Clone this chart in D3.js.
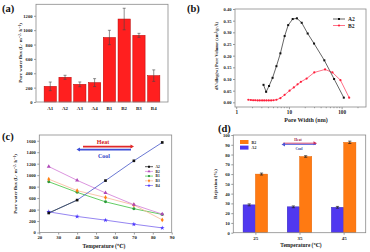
<!DOCTYPE html>
<html><head><meta charset="utf-8">
<script src="https://cdn.jsdelivr.net/npm/d3@7"></script>
<style>
body{margin:0;background:#fff}
svg{display:block;font-family:"Liberation Serif","DejaVu Serif",serif;font-weight:bold}
</style></head><body>
<svg id="fig" width="370" height="252"></svg>
<script>
// (a) pure water flux of the membranes
const fluxCats = ["A1","A2","A3","A4","B1","B2","B3","B4"];
const fluxVals = [218,344,246,270,898,1155,928,367];
const fluxErrs = [60,28,33,55,100,150,28,80];
const fluxTicks = [0,200,400,600,800,1000,1200];

// (b) pore size distribution
const poreA2W = [3.3,3.7,4.2,4.9,5.8,6.9,8.3,9.7,11.8,14.2,17.5,22.7,30,47,72,110];
const poreA2V = [0.075,0.045,0.07,0.105,0.155,0.21,0.284,0.331,0.357,0.36,0.341,0.295,0.252,0.18,0.10,0.02];
const poreB2W = [1.7,1.9,2.1,2.3,2.55,2.8,3.1,3.4,3.75,4.15,4.6,5.1,5.8,6.9,8.3,10.3,12.4,14.6,16.9,21.7,30.3,48.5,67,95,139];
const poreB2V = [0.011,0.01,0.009,0.009,0.008,0.008,0.008,0.008,0.008,0.008,0.008,0.009,0.011,0.018,0.032,0.05,0.064,0.077,0.088,0.102,0.128,0.141,0.128,0.095,0.02];
const poreTicksY = [0,0.05,0.10,0.15,0.20,0.25,0.30,0.35,0.40];

// (c) flux vs temperature
const temps = [25,40,55,70,85];
const tempSeries = ["A2","B2","B1","B3","B4"];
const fluxA2 = [340,565,905,1250,1570];
const fluxB2 = [1150,910,690,485,320];
const fluxB1 = [885,700,535,415,315];
const fluxB3 = [930,730,610,480,220];
const fluxB4 = [360,280,215,145,80];

// (d) rejection
const rejTemps = ["25","35","45"];
const rejA2 = [28.5,26.5,26];
const rejB2 = [60,78,92.5];
const rejA2Err = [1,0.9,0.9];
const rejB2Err = [1,0.8,1.2];

const svg = d3.select("#fig");

function frame(x0, y0, x1, y1) {
    svg.append("rect")
        .attr("x", x0).attr("y", y0)
        .attr("width", x1 - x0).attr("height", y1 - y0)
        .attr("fill", "none").attr("stroke", "#8a8a8a").attr("stroke-width", 0.8);
}

function styleAxis(g, fs) {
    g.select(".domain").remove();
    g.selectAll("line").attr("stroke", "#555").attr("stroke-width", 0.6);
    g.selectAll("text").attr("font-size", fs).attr("fill", "#222")
        .attr("font-family", "Liberation Serif, serif").attr("font-weight", "bold");
}

function label(x, y, txt, fs, opts = {}) {
    const t = svg.append("text")
        .attr("x", x).attr("y", y)
        .attr("font-size", fs)
        .attr("text-anchor", opts.anchor || "middle")
        .attr("fill", opts.fill || "#222")
        .text(txt);
    if (opts.rotate) t.attr("transform", `rotate(-90,${x},${y})`);
    return t;
}

function arrow(x0, x1, y, color, w) {
    // shaft plus a small triangular head at x1
    const dir = x1 > x0 ? 1 : -1;
    svg.append("line").attr("x1", x0).attr("x2", x1 - dir * 2).attr("y1", y).attr("y2", y)
        .attr("stroke", color).attr("stroke-width", w);
    svg.append("path")
        .attr("d", `M${x1},${y}L${x1 - dir * 3.5},${y - 2}L${x1 - dir * 3.5},${y + 2}Z`)
        .attr("fill", color);
}

// ---------- (a) ----------
const xa = d3.scaleBand().domain(fluxCats).range([36, 168]).paddingInner(0.17).paddingOuter(0.55);
const ya = d3.scaleLinear().domain([0, 1360]).range([102, 4.3]);

svg.append("g").selectAll("rect").data(fluxCats).enter().append("rect")
    .attr("x", d => xa(d))
    .attr("y", (d, i) => ya(fluxVals[i]))
    .attr("width", xa.bandwidth())
    .attr("height", (d, i) => ya(0) - ya(fluxVals[i]))
    .attr("fill", "#ff1f1f").attr("stroke", "#b80000").attr("stroke-width", 0.5);

const errA = svg.append("g").attr("stroke", "#444").attr("stroke-width", 0.6);
fluxCats.forEach((c, i) => {
    const cx = xa(c) + xa.bandwidth() / 2;
    const y1 = ya(fluxVals[i] + fluxErrs[i]), y2 = ya(fluxVals[i] - fluxErrs[i]);
    errA.append("line").attr("x1", cx).attr("x2", cx).attr("y1", y1).attr("y2", y2);
    errA.append("line").attr("x1", cx - 1.5).attr("x2", cx + 1.5).attr("y1", y1).attr("y2", y1);
    errA.append("line").attr("x1", cx - 1.5).attr("x2", cx + 1.5).attr("y1", y2).attr("y2", y2);
});

svg.append("g").attr("transform", "translate(36,0)")
    .call(d3.axisLeft(ya).tickValues(fluxTicks).tickSize(2).tickPadding(1.5).tickFormat(d3.format("d")))
    .call(g => styleAxis(g, 4.6));
svg.append("g").attr("transform", "translate(0,102)")
    .call(d3.axisBottom(xa).tickSize(0).tickPadding(4))
    .call(g => styleAxis(g, 5));
frame(36, 4.3, 168, 102);
label(22, 53, "Pure water flux (L· m⁻²· h⁻¹)", 4.8, {rotate: true});
label(2, 11.5, "(a)", 10.5, {anchor: "start", fill: "#111"});

// ---------- (b) ----------
const xb = d3.scaleLog().domain([0.95, 290]).range([235, 366]);
const yb = d3.scaleLinear().domain([-0.02, 0.40]).range([107, 9]);

const minorB = [2,3,4,5,6,7,8,9,20,30,40,50,60,70,80,90,200];
svg.append("g").attr("transform", "translate(0,107)")
    .call(d3.axisBottom(xb).tickValues(minorB).tickSize(1.2).tickFormat(""))
    .call(g => styleAxis(g, 5));
svg.append("g").attr("transform", "translate(0,107)")
    .call(d3.axisBottom(xb).tickValues([1,10,100]).tickSize(2.2).tickPadding(1.5).tickFormat(d3.format("d")))
    .call(g => styleAxis(g, 5.2));
svg.append("g").attr("transform", "translate(235,0)")
    .call(d3.axisLeft(yb).tickValues(poreTicksY).tickSize(2).tickPadding(1.5).tickFormat(d3.format(".2f")))
    .call(g => styleAxis(g, 4.6));

const lineB = d3.line().x(d => xb(d[0])).y(d => yb(d[1]));
const a2Pts = poreA2W.map((w, i) => [w, poreA2V[i]]);
const b2Pts = poreB2W.map((w, i) => [w, poreB2V[i]]);
svg.append("path").datum(b2Pts).attr("d", lineB).attr("fill", "none").attr("stroke", "#ff3355").attr("stroke-width", 0.7);
svg.append("g").selectAll("circle").data(b2Pts).enter().append("circle")
    .attr("cx", d => xb(d[0])).attr("cy", d => yb(d[1])).attr("r", 1.1).attr("fill", "#ff1f3a");
svg.append("path").datum(a2Pts).attr("d", lineB).attr("fill", "none").attr("stroke", "#222").attr("stroke-width", 0.7);
svg.append("g").selectAll("rect").data(a2Pts).enter().append("rect")
    .attr("x", d => xb(d[0]) - 1).attr("y", d => yb(d[1]) - 1).attr("width", 2).attr("height", 2).attr("fill", "#111");

frame(235, 9, 366, 107);
// legend (b)
svg.append("line").attr("x1", 333).attr("x2", 345).attr("y1", 19).attr("y2", 19).attr("stroke", "#222").attr("stroke-width", 0.7);
svg.append("rect").attr("x", 338).attr("y", 18).attr("width", 2).attr("height", 2).attr("fill", "#111");
label(348, 21, "A2", 5.6, {anchor: "start"});
svg.append("line").attr("x1", 333).attr("x2", 345).attr("y1", 25.5).attr("y2", 25.5).attr("stroke", "#ff3355").attr("stroke-width", 0.7);
svg.append("circle").attr("cx", 339).attr("cy", 25.5).attr("r", 1.1).attr("fill", "#ff1f3a");
label(348, 27.5, "B2", 5.6, {anchor: "start"});

label(306, 122, "Pore Width (nm)", 6, {});
label(218, 56, "dV/dlog(w) Pore Volume (cm³/g·Å)", 4.6, {rotate: true});
label(187, 11.5, "(b)", 10.5, {anchor: "start", fill: "#111"});

// ---------- (c) ----------
const xc = d3.scaleLinear().domain([20, 90]).range([39.3, 171.7]);
const yc = d3.scaleLinear().domain([0, 1700]).range([232.5, 135]);

svg.append("g").attr("transform", "translate(0,232.5)")
    .call(d3.axisBottom(xc).ticks(7).tickSize(2).tickPadding(1.5))
    .call(g => styleAxis(g, 4.8));
svg.append("g").attr("transform", "translate(39.3,0)")
    .call(d3.axisLeft(yc).tickValues(d3.range(0, 1601, 200)).tickSize(2).tickPadding(1.5).tickFormat(d3.format("d")))
    .call(g => styleAxis(g, 4.6));

const seriesC = {
    A2: {vals: fluxA2, line: "#4455c8", mark: "#111", sym: d3.symbolSquare},
    B2: {vals: fluxB2, line: "#d27ad6", mark: "#b048b8", sym: d3.symbolTriangle},
    B1: {vals: fluxB1, line: "#3cc03c", mark: "#2a9a3a", sym: d3.symbolCircle},
    B3: {vals: fluxB3, line: "#f7b896", mark: "#ff7f10", sym: d3.symbolDiamond},
    B4: {vals: fluxB4, line: "#7a66ee", mark: "#4a36ff", sym: d3.symbolStar}
};
const lineC = d3.line().x((d, i) => xc(temps[i])).y(d => yc(d));
["B4","B1","B3","B2","A2"].forEach(k => {
    const s = seriesC[k];
    svg.append("path").datum(s.vals).attr("d", lineC).attr("fill", "none")
        .attr("stroke", s.line).attr("stroke-width", 0.8);
});
// first A2 segment is dark
svg.append("line").attr("x1", xc(temps[0])).attr("y1", yc(fluxA2[0]))
    .attr("x2", xc(temps[1])).attr("y2", yc(fluxA2[1])).attr("stroke", "#3a4a44").attr("stroke-width", 0.8);
["B4","B1","B3","B2","A2"].forEach(k => {
    const s = seriesC[k];
    svg.append("g").selectAll("path").data(s.vals).enter().append("path")
        .attr("d", d3.symbol().type(s.sym).size(7))
        .attr("transform", (d, i) => `translate(${xc(temps[i])},${yc(d)})`)
        .attr("fill", s.mark);
});
frame(39.3, 135, 171.7, 232.5);

// legend (c)
tempSeries.forEach((k, i) => {
    const s = seriesC[k], y = 166.7 + i * 4.7;
    svg.append("line").attr("x1", 145).attr("x2", 153).attr("y1", y).attr("y2", y)
        .attr("stroke", k === "A2" ? "#111" : s.line).attr("stroke-width", 0.7);
    svg.append("path").attr("d", d3.symbol().type(s.sym).size(4))
        .attr("transform", `translate(149,${y})`).attr("fill", s.mark);
    label(155.5, y + 1.3, k, 3.6, {anchor: "start"});
});

arrow(83, 134, 146.6, "#e02828", 1.6);
arrow(131, 76.5, 149.6, "#3d4fd8", 1.6);
label(103, 144.3, "Heat", 6, {fill: "#d42020"});
label(104, 158, "Cool", 6, {fill: "#3040c8"});

label(104, 247.5, "Temperature (℃)", 5.6, {});
label(17, 184, "Pure water flux (L· m⁻²· h⁻¹)", 4.8, {rotate: true});
label(2, 140, "(c)", 10.5, {anchor: "start", fill: "#111"});

// ---------- (d) ----------
const xd = d3.scalePoint().domain(rejTemps).range([233.3, 365.7]).padding(0.5);
const yd = d3.scaleLinear().domain([0, 100]).range([232.7, 135]);
const bw = 12.3;

svg.append("g").attr("transform", "translate(0,232.7)")
    .call(d3.axisBottom(xd).tickSize(2).tickPadding(1.5))
    .call(g => styleAxis(g, 5));
svg.append("g").attr("transform", "translate(233.3,0)")
    .call(d3.axisLeft(yd).tickValues(d3.range(0, 101, 10)).tickSize(2).tickPadding(1.5))
    .call(g => styleAxis(g, 4.6));

const barsD = [
    {vals: rejA2, errs: rejA2Err, fill: "#5038f0", edge: "#2a1fb0", off: -bw},
    {vals: rejB2, errs: rejB2Err, fill: "#ff7a12", edge: "#e06000", off: 0}
];
barsD.forEach(b => {
    svg.append("g").selectAll("rect").data(rejTemps).enter().append("rect")
        .attr("x", d => xd(d) + b.off)
        .attr("y", (d, i) => yd(b.vals[i]))
        .attr("width", bw)
        .attr("height", (d, i) => yd(0) - yd(b.vals[i]))
        .attr("fill", b.fill).attr("stroke", b.edge).attr("stroke-width", 0.4);
    const eg = svg.append("g").attr("stroke", "#222").attr("stroke-width", 0.7);
    rejTemps.forEach((t, i) => {
        const cx = xd(t) + b.off + bw / 2;
        const y1 = yd(b.vals[i] + b.errs[i]), y2 = yd(b.vals[i] - b.errs[i]);
        eg.append("line").attr("x1", cx).attr("x2", cx).attr("y1", y1).attr("y2", y2);
        eg.append("line").attr("x1", cx - 1.6).attr("x2", cx + 1.6).attr("y1", y1).attr("y2", y1);
        eg.append("line").attr("x1", cx - 1.6).attr("x2", cx + 1.6).attr("y1", y2).attr("y2", y2);
    });
});
frame(233.3, 135, 365.7, 232.7);

// legend (d)
svg.append("rect").attr("x", 240).attr("y", 140).attr("width", 8.5).attr("height", 4).attr("fill", "#ff7a12");
label(251.5, 143.8, "B2", 4, {anchor: "start"});
svg.append("rect").attr("x", 240).attr("y", 145.6).attr("width", 8.5).attr("height", 4).attr("fill", "#5038f0");
label(251.5, 149.4, "A2", 4, {anchor: "start"});

arrow(283, 317, 143.2, "#d03060", 0.9);
arrow(316, 281.5, 144.4, "#4a55d8", 0.9);
label(298, 141.2, "Heat", 3.6, {fill: "#a02040"});
label(299, 149.6, "Cool", 3.6, {fill: "#3040a0"});

label(301, 247, "Temperature (℃)", 5.4, {});
label(217, 184, "Rejection (%)", 5, {rotate: true});
label(218, 131.5, "(d)", 10.5, {anchor: "start", fill: "#111"});
</script>
</body></html>
